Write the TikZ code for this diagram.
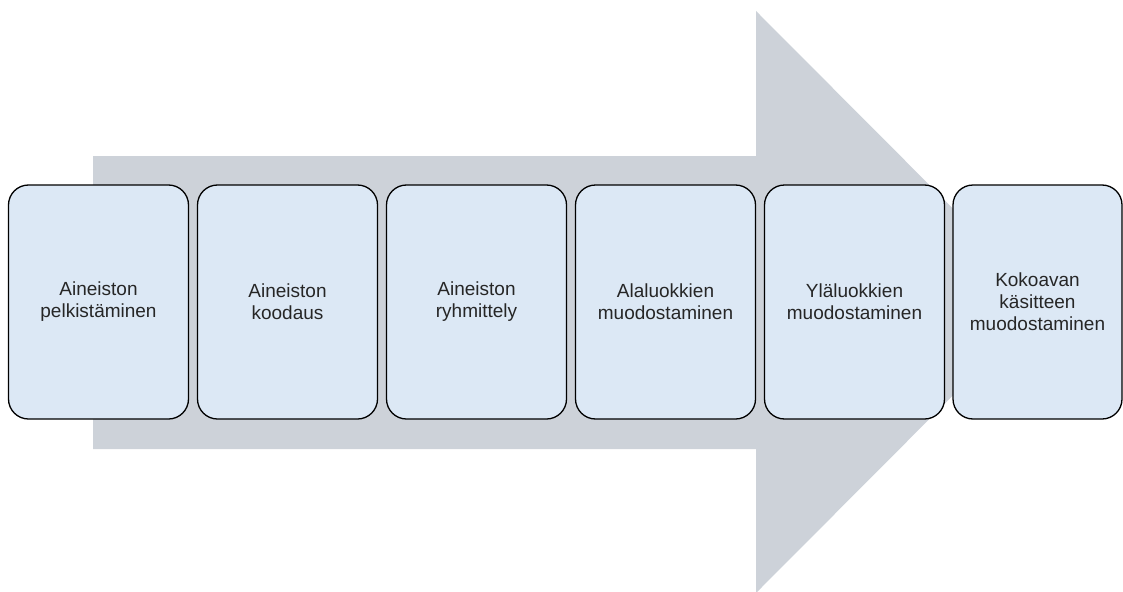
\documentclass[tikz,border=0pt]{standalone}
\usepackage{fontspec}
\setmainfont{Liberation Sans}
\usepackage{tikz}

\definecolor{arrowgray}{HTML}{CDD2D9}
\definecolor{boxblue}{HTML}{DCE8F5}
\definecolor{txtgray}{HTML}{262626}

\tikzset{
  phase/.style={draw=black, line width=1.3pt, fill=boxblue, rounded corners=20pt,
    minimum width=180pt, minimum height=234pt, align=center, text=txtgray,
    font=\fontsize{19}{22}\selectfont, inner sep=0pt},
}

\begin{document}
\begin{tikzpicture}[x=1pt,y=-1pt]

\useasboundingbox (0,0) rectangle (1123,591);

% big background arrow
\coordinate (bodyTL) at (93,156);
\coordinate (bodyBL) at (93,449);
\coordinate (headTop) at (756,11);
\coordinate (headTip) at (1046,302);
\coordinate (headBot) at (756,593);
\fill[arrowgray] (bodyTL) -- (756,156) -- (headTop) -- (headTip)
  -- (headBot) -- (756,449) -- (bodyBL) -- cycle;

% steps of the analysis
\node[phase] (pelk) at (98.5,302) {Aineiston\\pelkistäminen};
\node[phase] (kood) at (287.5,302) {Aineiston\\koodaus};
\node[phase] (ryhm) at (476.5,302) {Aineiston\\ryhmittely};
\node[phase] (ala) at (665.5,302) {Alaluokkien\\muodostaminen};
\node[phase] (yla) at (854.5,302) {Yläluokkien\\muodostaminen};
\node[phase, minimum width=169pt] (koko) at (1037.5,302) {Kokoavan\\käsitteen\\muodostaminen};

\end{tikzpicture}
\end{document}
